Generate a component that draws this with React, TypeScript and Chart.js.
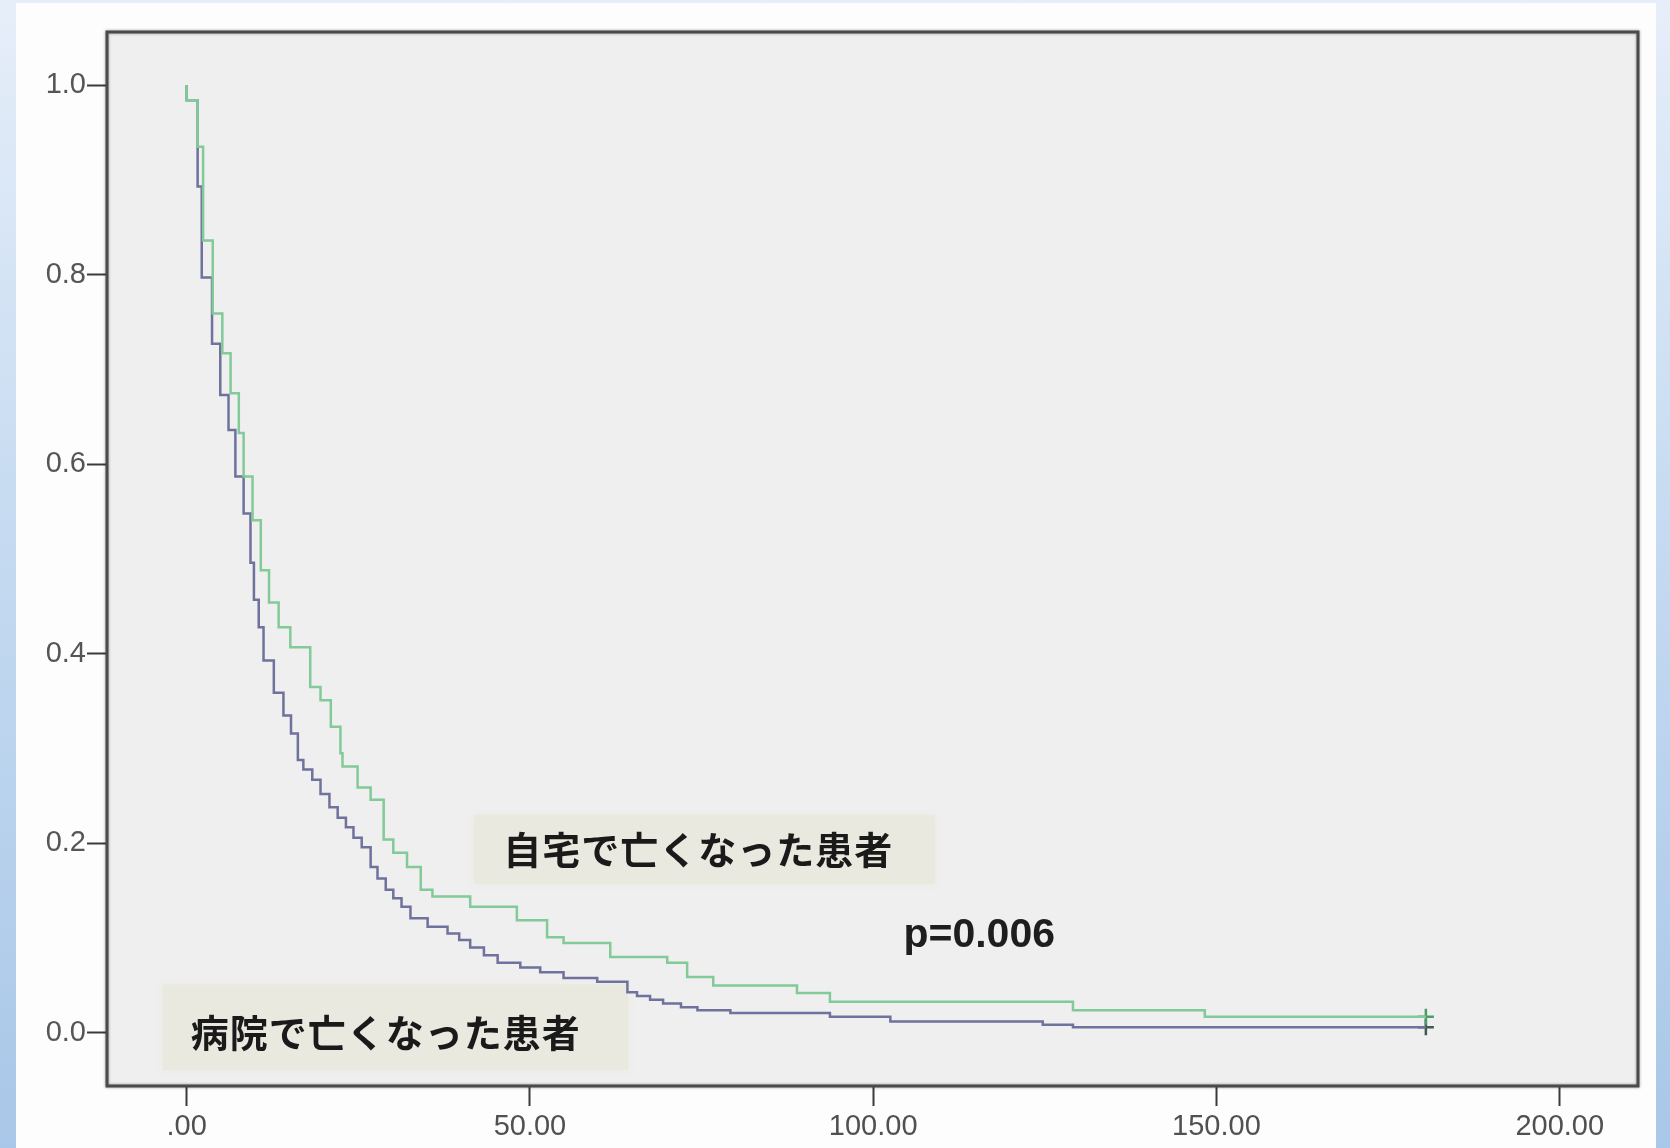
import React, { useEffect, useRef } from 'react';
import { Chart, registerables } from 'chart.js';

Chart.register(...registerables);

// Kaplan-Meier step data (time, cumulative survival)
const homeTimes = [0, 1.6, 2.4, 3.8, 5.2, 6.4, 7.6, 8.3, 9.6, 10.8, 12.0, 13.4, 15.1, 18.0, 19.5, 21.0, 22.4, 22.7, 24.9, 26.8, 28.7, 30.1, 32.1, 34.1, 35.8, 41.3, 48.1, 52.5, 54.9, 61.7, 70.0, 72.9, 76.7, 88.9, 93.7, 129.1, 148.3, 178.5, 180.5];
const homeSurvival = [1.0, 0.984, 0.935, 0.836, 0.759, 0.717, 0.675, 0.633, 0.587, 0.541, 0.488, 0.454, 0.428, 0.407, 0.365, 0.351, 0.323, 0.295, 0.281, 0.259, 0.246, 0.204, 0.19, 0.175, 0.151, 0.144, 0.133, 0.119, 0.101, 0.095, 0.08, 0.074, 0.059, 0.05, 0.042, 0.033, 0.024, 0.017, 0.017];

const hospitalTimes = [0, 1.6, 2.2, 3.7, 4.9, 6.1, 7.1, 8.3, 9.3, 9.8, 10.5, 11.2, 12.7, 14.1, 15.2, 16.2, 17.0, 18.3, 19.5, 20.8, 22.0, 23.2, 24.3, 25.5, 26.8, 27.8, 29.0, 30.1, 31.3, 32.6, 35.1, 38.0, 39.7, 41.3, 43.3, 45.3, 48.6, 51.5, 54.9, 59.8, 64.2, 65.6, 67.5, 69.4, 72.0, 74.4, 79.2, 93.7, 102.5, 124.7, 129.1, 163.0, 180.5];
const hospitalSurvival = [1.0, 0.984, 0.893, 0.797, 0.727, 0.673, 0.636, 0.587, 0.548, 0.496, 0.457, 0.428, 0.393, 0.359, 0.335, 0.316, 0.288, 0.278, 0.267, 0.252, 0.238, 0.227, 0.217, 0.206, 0.196, 0.175, 0.163, 0.151, 0.142, 0.133, 0.121, 0.112, 0.105, 0.098, 0.09, 0.082, 0.074, 0.069, 0.064, 0.058, 0.054, 0.043, 0.039, 0.035, 0.031, 0.027, 0.024, 0.021, 0.017, 0.012, 0.0085, 0.006, 0.006];

const censorTimes = [180.5];
const homeCensorSurvival = [0.017];
const hospitalCensorSurvival = [0.006];

const xTickValues = [0, 50, 100, 150, 200];
const yTickValues = [0, 0.2, 0.4, 0.6, 0.8, 1.0];

const homeLabel = '自宅で亡くなった患者';
const hospitalLabel = '病院で亡くなった患者';
const pValueLabel = 'p=0.006';

const homeColor = '#82ca97';
const hospitalColor = '#6e729c';

const annotationPlugin = {
  id: 'kmAnnotations',
  beforeDraw(chart: any) {
    const { ctx, chartArea } = chart;
    ctx.save();
    ctx.fillStyle = '#efefef';
    ctx.fillRect(chartArea.left, chartArea.top, chartArea.right - chartArea.left, chartArea.bottom - chartArea.top);
    ctx.restore();
  },
  beforeDatasetsDraw(chart: any) {
    const { ctx } = chart;
    const xs = chart.scales.x;
    const ys = chart.scales.y;
    const box = (x0: number, x1: number, y0: number, y1: number) => {
      const l = xs.getPixelForValue(x0);
      const r = xs.getPixelForValue(x1);
      const t = ys.getPixelForValue(y0);
      const b = ys.getPixelForValue(y1);
      ctx.save();
      ctx.fillStyle = '#eae9df';
      ctx.shadowColor = 'rgba(234,233,223,0.9)';
      ctx.shadowBlur = 6;
      ctx.fillRect(l, t, r - l, b - t);
      ctx.restore();
    };
    box(41.9, 109.0, 0.23, 0.157);
    box(-3.5, 64.3, 0.051, -0.039);
  },
  afterDatasetsDraw(chart: any) {
    const { ctx } = chart;
    const xs = chart.scales.x;
    const ys = chart.scales.y;
    ctx.save();
    ctx.textBaseline = 'middle';
    ctx.textAlign = 'left';
    ctx.fillStyle = '#1a1a1a';
    ctx.font = 'bold 38px "Noto Sans CJK JP"';
    try { (ctx as any).letterSpacing = '1px'; } catch (e) {}
    ctx.fillText(homeLabel, xs.getPixelForValue(46.1), ys.getPixelForValue(0.193));
    ctx.fillText(hospitalLabel, xs.getPixelForValue(0.6), ys.getPixelForValue(0.0));
    try { (ctx as any).letterSpacing = '0px'; } catch (e) {}
    ctx.font = 'bold 41px "Liberation Sans", Arial, sans-serif';
    ctx.fillStyle = '#1e1e1e';
    ctx.fillText(pValueLabel, xs.getPixelForValue(104.4), ys.getPixelForValue(0.103));
    ctx.restore();
  },
  afterDraw(chart: any) {
    const { ctx, chartArea } = chart;
    ctx.save();
    ctx.strokeStyle = '#4a4a4a';
    ctx.lineWidth = 3;
    ctx.shadowColor = 'rgba(0,0,0,0.4)';
    ctx.shadowBlur = 3;
    ctx.strokeRect(chartArea.left, chartArea.top, chartArea.right - chartArea.left, chartArea.bottom - chartArea.top);
    ctx.restore();
  },
};

export default function App() {
  const canvasRef = useRef<HTMLCanvasElement | null>(null);

  useEffect(() => {
    const canvas = canvasRef.current;
    if (!canvas) return;
    const homeData = homeTimes.map((t, i) => ({ x: t, y: homeSurvival[i] }));
    const hospitalData = hospitalTimes.map((t, i) => ({ x: t, y: hospitalSurvival[i] }));
    const homeCensor = censorTimes.map((t, i) => ({ x: t, y: homeCensorSurvival[i] }));
    const hospitalCensor = censorTimes.map((t, i) => ({ x: t, y: hospitalCensorSurvival[i] }));

    const chart = new Chart(canvas, {
      type: 'line',
      data: {
        datasets: [
          {
            label: homeLabel,
            data: homeData,
            borderColor: homeColor,
            borderWidth: 2.5,
            stepped: 'after',
            pointRadius: 0,
            fill: false,
          },
          {
            label: hospitalLabel,
            data: hospitalData,
            borderColor: hospitalColor,
            borderWidth: 2.5,
            stepped: 'after',
            pointRadius: 0,
            fill: false,
          },
          {
            label: 'home censored',
            data: homeCensor,
            showLine: false,
            pointStyle: 'cross',
            pointRadius: 8,
            borderColor: '#4f9a6a',
            borderWidth: 2.5,
          },
          {
            label: 'hospital censored',
            data: hospitalCensor,
            showLine: false,
            pointStyle: 'cross',
            pointRadius: 8,
            borderColor: '#3e5a52',
            borderWidth: 2.5,
          },
        ],
      },
      options: {
        animation: false,
        responsive: false,
        devicePixelRatio: 1,
        events: [],
        layout: { padding: { left: 0, top: 32, right: 32, bottom: 0 } },
        plugins: {
          legend: { display: false },
          tooltip: { enabled: false },
          title: { display: false },
        },
        scales: {
          x: {
            type: 'linear',
            min: -11.6,
            max: 211.4,
            afterBuildTicks: (scale: any) => {
              scale.ticks = xTickValues.map((v) => ({ value: v }));
            },
            afterFit: (scale: any) => {
              scale.height = 62;
            },
            grid: { drawOnChartArea: false, drawTicks: true, tickLength: 20, tickColor: '#3a3a3a', tickWidth: 2 },
            border: { display: false },
            ticks: {
              padding: 4,
              maxRotation: 0,
              autoSkip: false,
              color: '#505050',
              font: { family: '"Liberation Sans", Arial, sans-serif', size: 29 },
              callback: (v: any) => (Number(v) === 0 ? '.00' : Number(v).toFixed(2)),
            },
          },
          y: {
            type: 'linear',
            min: -0.056,
            max: 1.056,
            afterBuildTicks: (scale: any) => {
              scale.ticks = yTickValues.map((v) => ({ value: v }));
            },
            afterFit: (scale: any) => {
              scale.width = 107;
            },
            grid: { drawOnChartArea: false, drawTicks: true, tickLength: 20, tickColor: '#3a3a3a', tickWidth: 2 },
            border: { display: false },
            ticks: {
              padding: 1,
              autoSkip: false,
              color: '#555555',
              font: { family: '"Liberation Sans", Arial, sans-serif', size: 29 },
              callback: (v: any) => Number(v).toFixed(1),
            },
          },
        },
      },
      plugins: [annotationPlugin],
    } as any);

    return () => {
      chart.destroy();
    };
  }, []);

  return (
    <div
      style={{
        position: 'absolute',
        left: 0,
        top: 0,
        width: 1670,
        height: 1148,
        overflow: 'hidden',
        background: 'linear-gradient(to bottom, #e6eef9 0%, #c6dbf1 45%, #a9c7e8 100%)',
      }}
    >
      <div
        style={{
          position: 'absolute',
          left: 16,
          top: 3,
          width: 1640,
          height: 1145,
          background: '#fdfdfd',
        }}
      />
      <canvas
        ref={canvasRef}
        width={1670}
        height={1148}
        style={{ position: 'absolute', left: 0, top: 0, width: 1670, height: 1148 }}
      />
    </div>
  );
}
